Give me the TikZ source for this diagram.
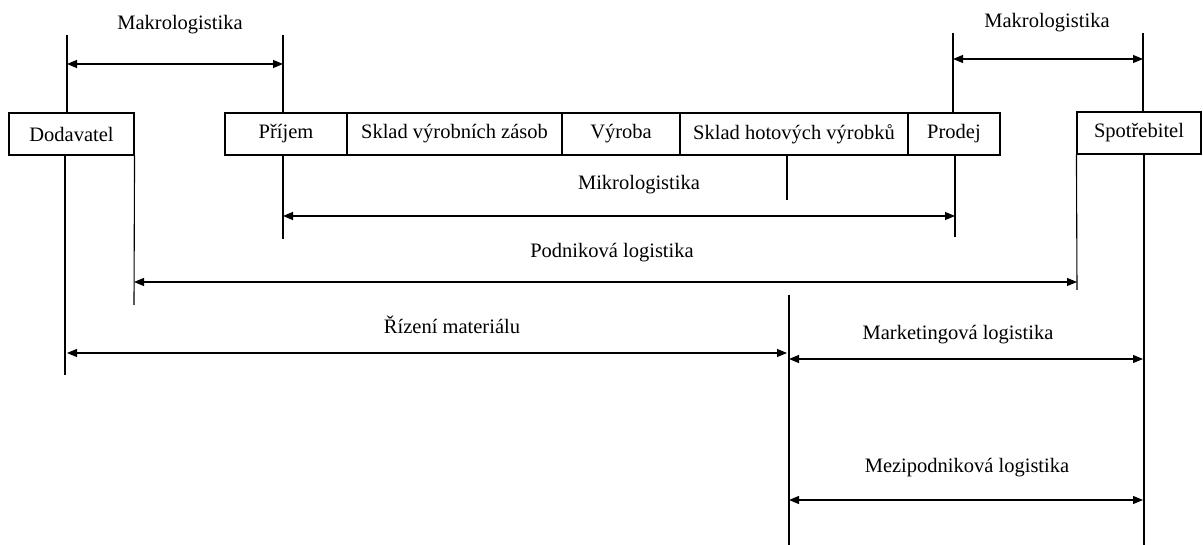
\documentclass[tikz,border=0pt]{standalone}
\usepackage{fontspec}
\setmainfont{Liberation Serif}
\usetikzlibrary{arrows.meta}

\begin{document}
\begin{tikzpicture}[x=1pt, y=-1pt, line width=1.1pt,
    every node/.style={font=\fontsize{20.5}{24}\selectfont},
    box/.style={draw, minimum height=42pt, inner sep=0pt, anchor=center},
    span/.style={{Triangle[length=10pt,width=8pt]}-{Triangle[length=10pt,width=8pt]}}]
  \useasboundingbox (0,0) rectangle (1203,545);
  % boxes
  \node[box, minimum width=125pt] (dod) at (71.5,134) {Dodavatel};
  \node[box, minimum width=122pt] (prij) at (286,134) {Příjem};
  \node[box, minimum width=215pt] (sklv) at (454.5,134) {Sklad výrobních zásob};
  \node[box, minimum width=118pt] (vyr) at (621,134) {Výroba};
  \node[box, minimum width=228pt] (sklh) at (794,134) {Sklad hotových výrobků};
  \node[box, minimum width=92pt] (prod) at (954,134) {Prodej};
  \node[box, minimum width=124pt] (spot) at (1139,133) {Spotřebitel};
  % labels
  \node (mak1) at (180,25) {Makrologistika};
  \node (mak2) at (1047,23) {Makrologistika};
  \node (mik) at (639,185) {Mikrologistika};
  \node (pod) at (612,253) {Podniková logistika};
  \node (riz) at (452,325) {Řízení materiálu};
  \node (mar) at (958,335) {Marketingová logistika};
  \node (mez) at (967,468) {Mezipodniková logistika};
  % vertical lines
  \coordinate (v1) at (67,35);    \draw (v1) -- (v1 |- dod.north);
  \coordinate (v2) at (65,375);   \draw (v2 |- dod.south) -- (v2);
  \coordinate (v3) at (134,305);  \draw (dod.south east) -- (v3);
  \coordinate (v4) at (283,35);   \draw (v4) -- (v4 |- prij.north);
  \coordinate (v5) at (283,239);  \draw (v5 |- prij.south) -- (v5);
  \coordinate (v6) at (787,200);  \draw (v6 |- sklh.south) -- (v6);
  \coordinate (v7) at (953,33);   \draw (v7) -- (v7 |- prod.north);
  \coordinate (v8) at (955,237);  \draw (v8 |- prod.south) -- (v8);
  \coordinate (v9) at (1143,33);  \draw (v9) -- (v9 |- spot.north);
  \coordinate (v10) at (1077,290); \draw (spot.south west) -- (v10);
  \coordinate (v11) at (1144,545); \draw (v11 |- spot.south) -- (v11);
  \coordinate (v12) at (789,295); \coordinate (v13) at (789,545);
  \draw (v12) -- (v13);
  % spans
  \draw[span] (v1 |- 0,64) -- (v4 |- 0,64);
  \draw[span] (v7 |- 0,59) -- (v9 |- 0,59);
  \draw[span] (v5 |- 0,216) -- (v8 |- 0,216);
  \draw[span] (v3 |- 0,282) -- (v10 |- 0,282);
  \draw[span] (v1 |- 0,353) -- (v6 |- 0,353);
  \draw[span] (v12 |- 0,359) -- (v9 |- 0,359);
  \draw[span] (v12 |- 0,500) -- (v9 |- 0,500);
\end{tikzpicture}
\end{document}
